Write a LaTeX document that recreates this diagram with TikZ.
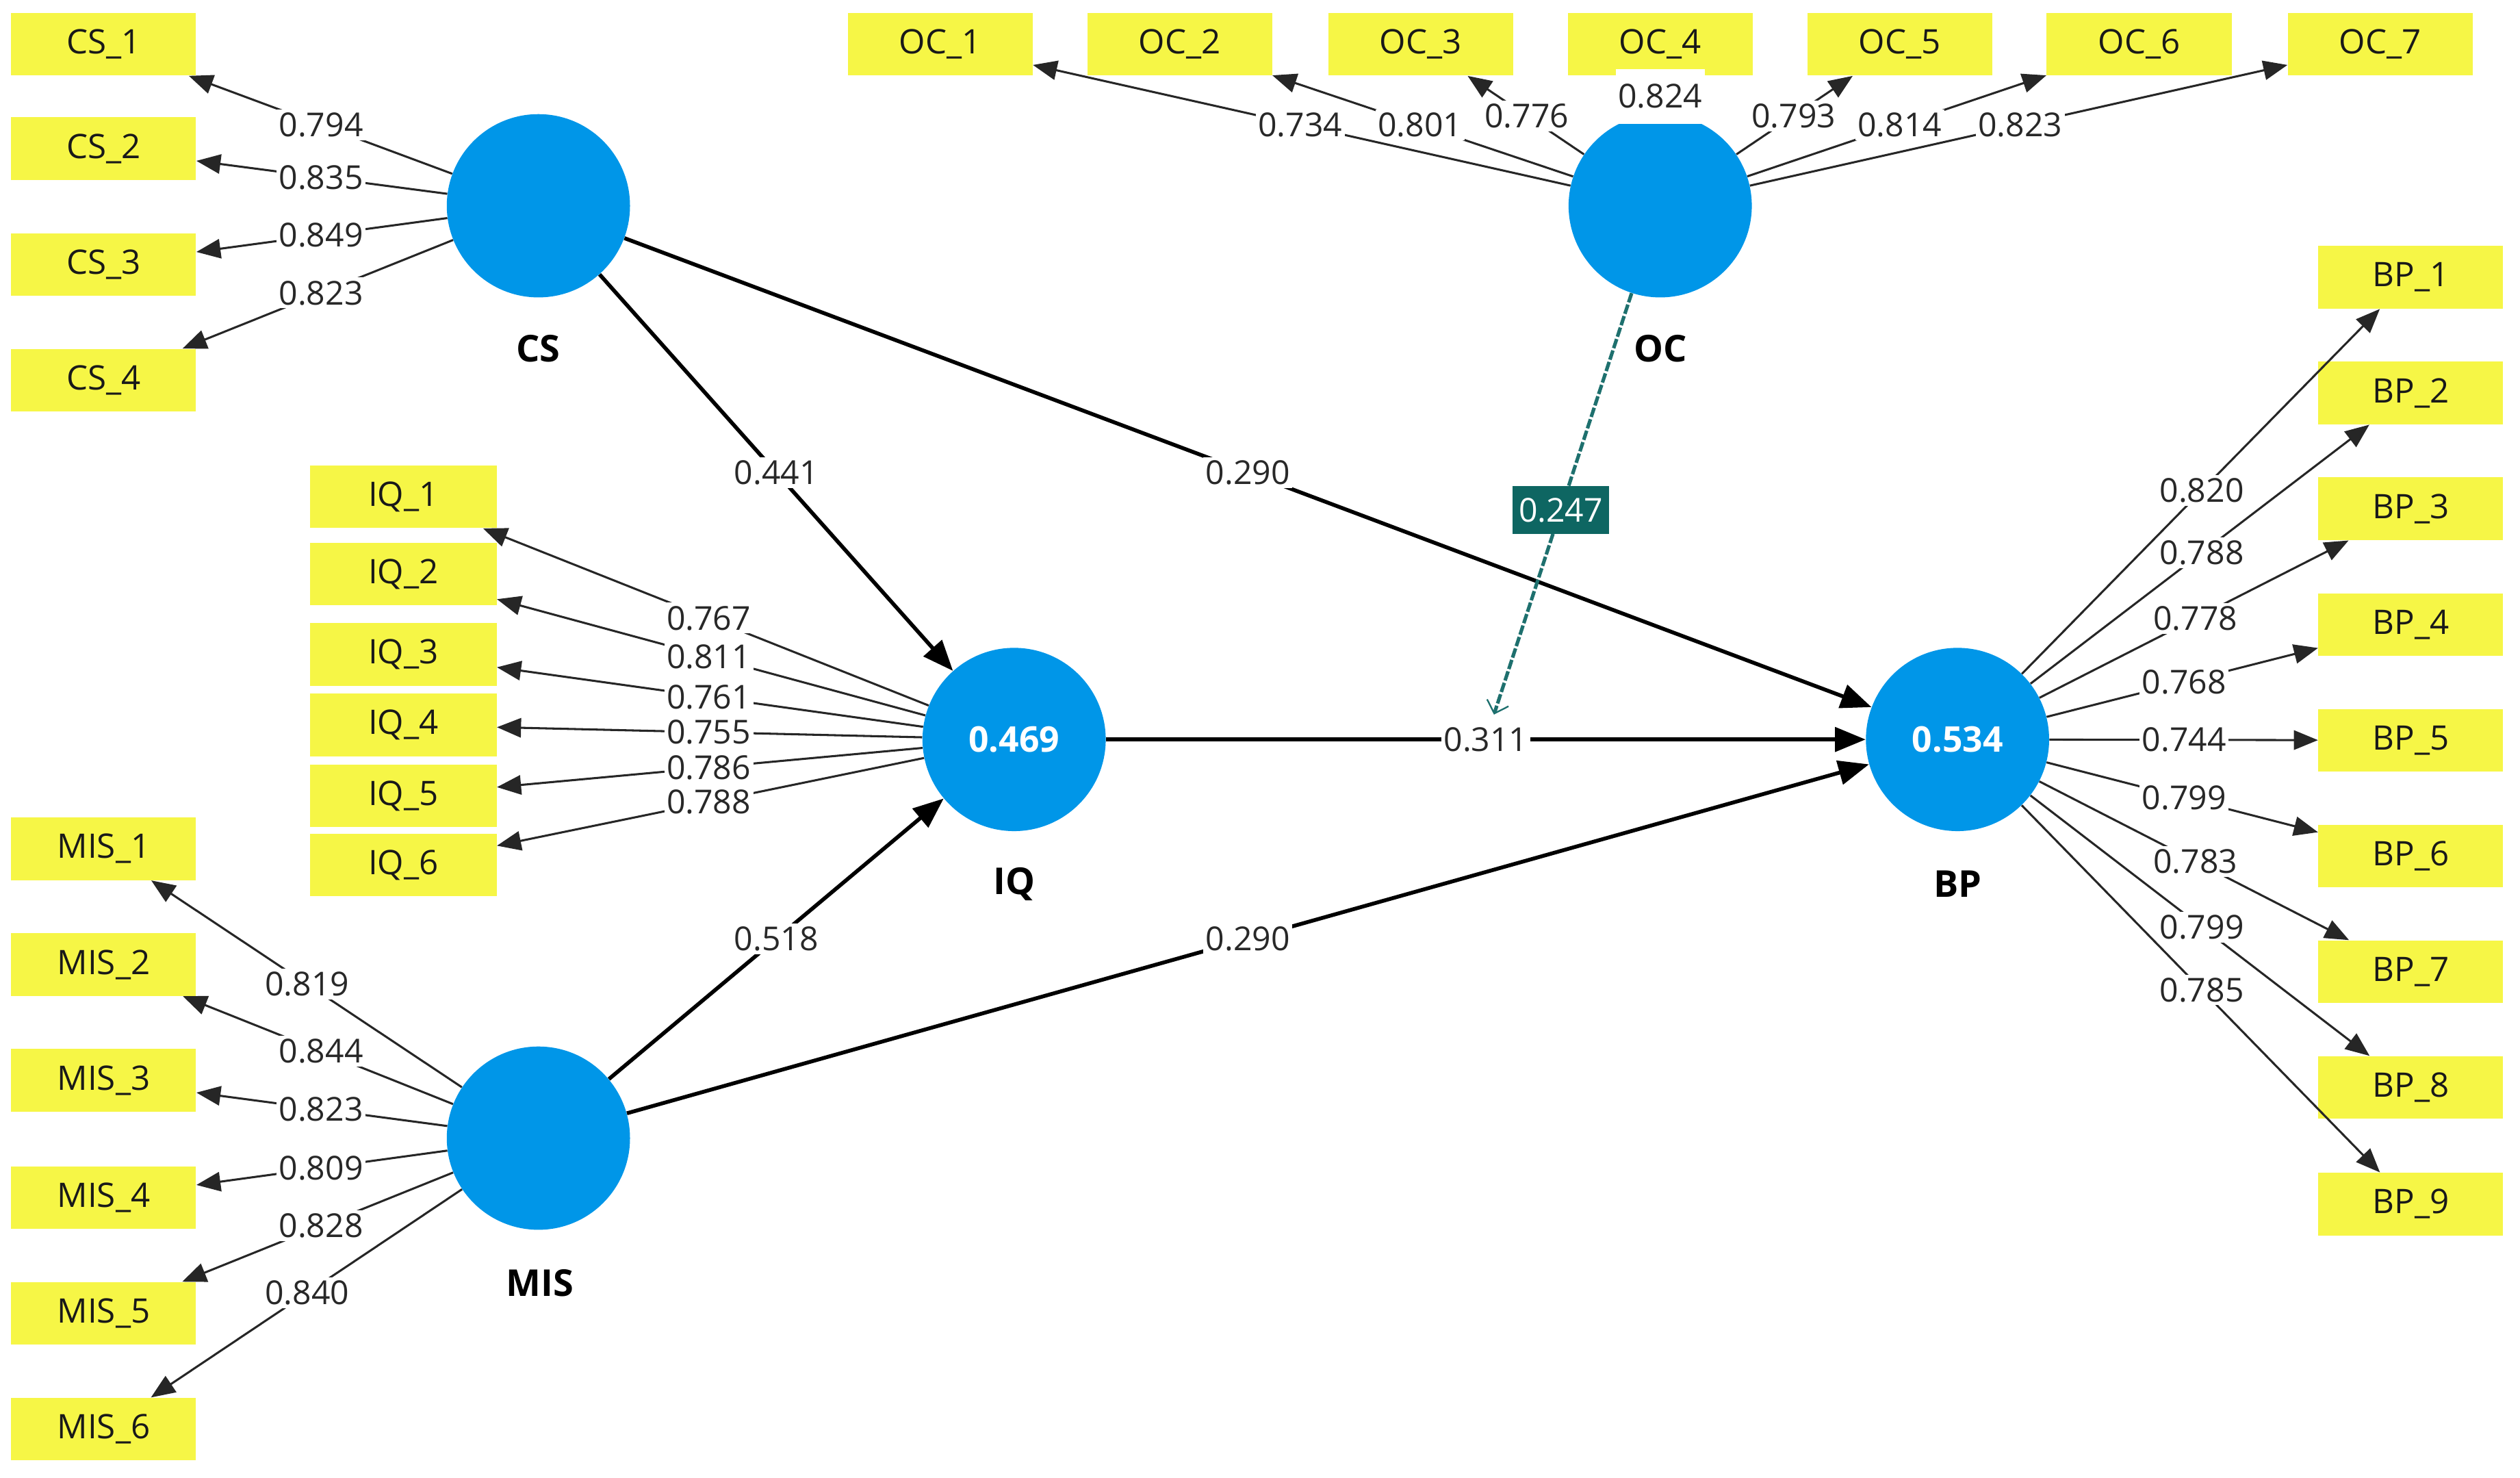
\documentclass[tikz,border=0pt]{standalone}
\usepackage{fontspec}
\setmainfont{Open Sans}
\usetikzlibrary{arrows.meta,calc}
\definecolor{ylw}{RGB}{246,246,70}
\definecolor{lvb}{RGB}{0,150,232}
\definecolor{modc}{RGB}{30,112,110}
\definecolor{modbox}{RGB}{14,102,98}
\definecolor{txt}{RGB}{40,40,40}
\tikzset{
 ind/.style={rectangle, fill=ylw, minimum width=115pt, minimum height=39pt, inner sep=0pt, text=black!90, font=\fontsize{21}{25}\selectfont},
 lat/.style={circle, fill=lvb, minimum size=114pt, inner sep=0pt, text=white, font=\bfseries\fontsize{22}{26}\selectfont},
 lvname/.style={font=\bfseries\fontsize{23}{27}\selectfont, text=black},
 ld/.style={draw=black!85, line width=1.3pt, -{Triangle[length=15pt,width=12pt]}},
 pth/.style={draw=black, line width=2.4pt, -{Triangle[length=19pt,width=15pt]}},
 val/.style={fill=white, inner xsep=1.5pt, inner ysep=2pt, text=txt, font=\fontsize{20.5}{24}\selectfont},
 mod/.style={draw=modc, line width=2.2pt, dash pattern=on 6pt off 1.5pt, -{Straight Barb[length=7pt,width=14pt,line width=1pt]}, shorten >=6pt},
 modval/.style={fill=modbox, text=white, minimum width=60pt, minimum height=30pt, inner sep=1pt, font=\fontsize{20.5}{24}\selectfont},
}
\begin{document}
\begin{tikzpicture}[x=1pt,y=-1pt]
\useasboundingbox (0,0) rectangle (1568,919);
% latent variables
\node[lat] (CS) at (335,128) {};
\node[lat] (OC) at (1033,128) {};
\node[lat] (IQ) at (631,460) {0.469};
\node[lat] (BP) at (1218,460) {0.534};
\node[lat] (MIS) at (335,708) {};
\node[lvname] (CSn) at (335,217) {CS};
\node[lvname] (OCn) at (1033,217) {OC};
\node[lvname] (IQn) at (631,550) {IQ};
\node[lvname] (BPn) at (1218,550) {BP};
\node[lvname] (MISn) at (336,798) {MIS};
% indicators
\foreach \i/\yy in {1/27.5,2/92.5,3/164.5,4/236.5} \node[ind] (CS\i) at (64.5,\yy) {CS\_\i};
\foreach \i/\xx in {1/585,2/734,3/884,4/1033,5/1182,6/1331,7/1481} \node[ind] (OC\i) at (\xx,27.5) {OC\_\i};
\foreach \i/\yy in {1/309,2/357,3/407,4/451,5/495,6/538} \node[ind, minimum width=116pt] (IQ\i) at (251,\yy) {IQ\_\i};
\foreach \i/\yy in {1/528,2/600,3/672,4/745,5/817,6/889} \node[ind] (MIS\i) at (64.5,\yy) {MIS\_\i};
\foreach \i/\yy in {1/172.5,2/244.5,3/316.5,4/388.5,5/460.5,6/532.5,7/604.5,8/676.5,9/749} \node[ind] (BP\i) at (1500,\yy) {BP\_\i};
% structural paths
\draw[pth] (CS) -- (IQ);
\draw[pth] (CS) -- (BP);
\draw[pth] (MIS) -- (IQ);
\draw[pth] (MIS) -- (BP);
\draw[pth] (IQ) -- (BP);
% loadings
\def\loadlist{CS/CS1/0.5/0.794, CS/CS2/0.5/0.835, CS/CS3/0.5/0.849, CS/CS4/0.5/0.823,
 OC/OC1/0.5/0.734, OC/OC2/0.5/0.801, OC/OC3/0.557/0.776, OC/OC5/0.557/0.793, OC/OC6/0.5/0.814, OC/OC7/0.5/0.823,
 IQ/IQ1/0.5/0.767, IQ/IQ2/0.5/0.811, IQ/IQ3/0.5/0.761, IQ/IQ4/0.5/0.755, IQ/IQ5/0.5/0.786, IQ/IQ6/0.5/0.788,
 MIS/MIS1/0.532/0.819, MIS/MIS2/0.5/0.844, MIS/MIS3/0.5/0.823, MIS/MIS4/0.5/0.809, MIS/MIS5/0.5/0.828, MIS/MIS6/0.532/0.840,
 BP/BP1/0.539/0.820, BP/BP2/0.539/0.788, BP/BP3/0.525/0.778, BP/BP4/0.5/0.768, BP/BP5/0.5/0.744, BP/BP6/0.5/0.799, BP/BP7/0.525/0.783, BP/BP8/0.539/0.799, BP/BP9/0.539/0.785}
\foreach \lv/\ix/\fr/\numv in \loadlist { \draw[ld] (\lv) -- (\ix); }
\draw[ld] (OC) -- (OC4);
\foreach \lv/\ix/\fr/\numv in \loadlist { \node[val] (v-\ix) at ($(\lv)!\fr!(\ix)$) {\numv}; }
\node[val, minimum height=34pt] (v-OC4) at ($(OC)!0.677!(OC4)$) {0.824};
% path coefficients
\node[val] (p1) at ($(CS)!0.5!(IQ)$) {0.441};
\node[val] (p2) at ($(CS)!0.5!(BP)$) {0.290};
\node[val] (p3) at ($(MIS)!0.5!(IQ)$) {0.518};
\node[val] (p4) at ($(MIS)!0.5!(BP)$) {0.290};
\node[val] (p5) at ($(IQ)!0.5!(BP)$) {0.311};
% moderating effect
\draw[mod] (OC) -- (p5);
\node[modval] (m1) at ($(OC)!0.57!(p5)$) {0.247};
\end{tikzpicture}
\end{document}
